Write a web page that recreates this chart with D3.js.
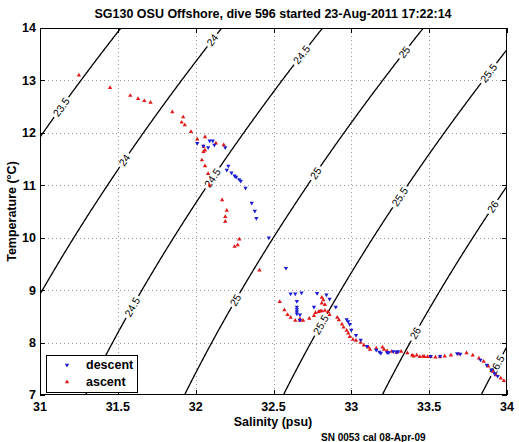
<!DOCTYPE html>
<html><head><meta charset="utf-8">
<script src="https://cdn.jsdelivr.net/npm/d3@7"></script>
<style>
body{margin:0;background:#fff;}
text{font-family:"Liberation Sans",Arial,Helvetica,sans-serif;}
</style></head>
<body><svg id="c" width="519" height="442"></svg>
<script>
// ---- data ----
const title = "SG130 OSU Offshore, dive 596 started 23-Aug-2011 17:22:14";
const xLabel = "Salinity (psu)";
const yLabel = "Temperature (°C)";
const footNote = "SN 0053 cal 08-Apr-09";
const xTicks = [31, 31.5, 32, 32.5, 33, 33.5, 34];
const yTicks = [7, 8, 9, 10, 11, 12, 13, 14];
const sigmaLevels = [23.5, 24, 24.5, 25, 25.5, 26, 26.5];
// temperatures at which each contour is labelled
const labelTemps = {
  "23.5": [12.49],
  "24": [13.77, 11.48],
  "24.5": [13.49, 11.14, 8.68],
  "25": [13.54, 11.23, 8.81],
  "25.5": [13.14, 10.78, 8.34],
  "26": [10.59, 8.18],
  "26.5": [7.57]
};
const descentS = [32.01,32.05,32.09,32.11,32.08,32.12,32.19,32.21,32.20,32.23,32.25,32.26,32.28,32.29,32.32,32.36,32.38,32.39,32.47,32.58,32.61,32.64,32.68,32.65,32.65,32.65,32.65,32.65,32.67,32.67,32.78,32.84,32.86,32.76,32.90,32.97,32.98,32.99,33.00,33.03,33.06,33.10,33.16,33.19,33.23,33.27,33.30,33.18,33.24,33.29,33.51,33.57,33.68,33.70,33.83,33.87,33.90,33.92,33.94];
const descentT = [11.80,11.75,11.85,11.85,11.72,11.77,11.72,11.37,11.29,11.24,11.18,11.16,11.11,11.08,10.95,10.66,10.51,10.37,10.00,9.42,8.93,8.93,8.95,8.79,8.68,8.63,8.59,8.55,8.53,8.43,8.94,8.91,8.83,8.68,8.68,8.44,8.40,8.35,8.24,8.14,8.05,7.93,7.86,7.80,7.81,7.83,7.83,7.82,7.81,7.82,7.74,7.74,7.79,7.78,7.67,7.57,7.48,7.41,7.36];
const ascentS = [31.25,31.45,31.58,31.63,31.67,31.71,31.85,31.92,31.91,31.93,31.97,32.01,32.06,32.13,32.18,32.05,32.06,32.05,32.04,32.06,32.08,32.09,32.17,32.20,32.19,32.19,32.28,32.27,32.25,32.41,32.54,32.57,32.59,32.61,32.64,32.67,32.69,32.67,32.73,32.76,32.77,32.79,32.80,32.81,32.83,32.81,32.82,32.81,32.83,32.85,32.86,32.91,32.92,32.94,32.95,32.97,32.98,32.99,33.01,33.03,33.06,33.08,33.11,33.12,33.16,33.20,33.21,33.23,33.26,33.29,33.32,33.36,33.39,33.42,33.46,33.49,33.40,33.44,33.47,33.51,33.54,33.57,33.60,33.64,33.69,33.74,33.78,33.82,33.85,33.88,33.91,33.93,33.96,33.98];
const ascentT = [13.10,12.86,12.71,12.65,12.61,12.58,12.40,12.30,12.20,12.15,12.02,11.88,11.92,11.80,11.77,11.74,11.67,11.64,11.48,11.37,11.22,11.00,10.72,10.52,10.40,10.31,9.97,9.86,9.83,9.38,8.78,8.62,8.53,8.48,8.42,8.42,8.42,8.45,8.46,8.51,8.57,8.59,8.60,8.60,8.61,8.75,8.81,8.86,8.72,8.59,8.53,8.48,8.43,8.35,8.29,8.23,8.18,8.11,8.06,8.04,8.00,7.95,7.91,7.87,7.89,7.91,7.87,7.84,7.83,7.81,7.83,7.80,7.76,7.76,7.74,7.73,7.74,7.73,7.73,7.73,7.72,7.73,7.74,7.76,7.78,7.80,7.76,7.70,7.64,7.55,7.45,7.38,7.32,7.27];
const legendItems = ["descent", "ascent"];
const colors = {descent: "#1c1cd6", ascent: "#e01818"};

// UNESCO EOS-80 one-atmosphere density anomaly
function sigmaT(S, T) {
  const rw = 999.842594 + 6.793952e-2*T - 9.095290e-3*T*T + 1.001685e-4*T**3 - 1.120083e-6*T**4 + 6.536332e-9*T**5;
  const A = 8.24493e-1 - 4.0899e-3*T + 7.6438e-5*T*T - 8.2467e-7*T**3 + 5.3875e-9*T**4;
  const B = -5.72466e-3 + 1.0227e-4*T - 1.6546e-6*T*T;
  return rw + A*S + B*Math.pow(S,1.5) + 4.8314e-4*S*S - 1000;
}
function solveS(level, T) {
  let lo = 20, hi = 45;
  for (let i = 0; i < 60; i++) {
    const mid = (lo+hi)/2;
    if (sigmaT(mid, T) < level) lo = mid; else hi = mid;
  }
  return (lo+hi)/2;
}

// ---- chart ----
const svg = d3.select("#c");
const L = 40, R = 507, Tp = 28, B = 395;
const x = d3.scaleLinear().domain([31, 34]).range([L, R]);
const y = d3.scaleLinear().domain([7, 14]).range([B, Tp]);

svg.append("defs").append("clipPath").attr("id","clip")
  .append("rect").attr("x",L).attr("y",Tp).attr("width",R-L).attr("height",B-Tp);

// grid
const grid = svg.append("g").attr("stroke","#9a9a9a").attr("stroke-width",1).attr("stroke-dasharray","1,3");
xTicks.slice(1,-1).forEach(v => grid.append("line").attr("x1",Math.round(x(v))+0.5).attr("x2",Math.round(x(v))+0.5).attr("y1",Tp).attr("y2",B));
yTicks.slice(1,-1).forEach(v => grid.append("line").attr("y1",Math.round(y(v))+0.5).attr("y2",Math.round(y(v))+0.5).attr("x1",L).attr("x2",R));

// contours
const cg = svg.append("g").attr("clip-path","url(#clip)");
const lg = svg.append("g");
const Ts = d3.range(6.5, 14.51, 0.01);
sigmaLevels.forEach(lev => {
  const pts = Ts.map(T => [x(solveS(lev, T)), y(T)]);
  const labs = (labelTemps[String(lev)] || []).map(T => {
    const p1 = [x(solveS(lev, T-0.05)), y(T-0.05)];
    const p2 = [x(solveS(lev, T+0.05)), y(T+0.05)];
    const c = [x(solveS(lev, T)), y(T)];
    const ang = Math.atan2(p2[1]-p1[1], p2[0]-p1[0]) * 180/Math.PI;
    const t = lg.append("text").attr("transform",`translate(${c[0]},${c[1]}) rotate(${ang})`)
      .attr("text-anchor","middle").attr("dy","0.35em").attr("font-size",10.5).text(String(lev));
    const w = t.node().getComputedTextLength();
    return {c, r: w/2 + 2};
  });
  const line = d3.line().defined(p => labs.every(l => Math.hypot(p[0]-l.c[0], p[1]-l.c[1]) > l.r));
  cg.append("path").attr("d", line(pts)).attr("fill","none").attr("stroke","#000").attr("stroke-width",1.3);
});

// markers
const tri = d3.symbol().type(d3.symbolTriangle).size(8);
const mg = svg.append("g").attr("clip-path","url(#clip)");
ascentS.forEach((s,i) => mg.append("path").attr("d",tri()).attr("fill",colors.ascent)
  .attr("transform",`translate(${x(s)},${y(ascentT[i])})`));
descentS.forEach((s,i) => mg.append("path").attr("d",tri()).attr("fill",colors.descent)
  .attr("transform",`translate(${x(s)},${y(descentT[i])}) rotate(180)`));

// axes box and ticks
const tl = 5;
const ax = svg.append("g").attr("stroke","#000").attr("stroke-width",1);
ax.append("rect").attr("x",L+0.5).attr("y",Tp+0.5).attr("width",R-L-1).attr("height",B-Tp-1).attr("fill","none");
xTicks.forEach(v => {
  const xx = Math.round(x(v))+0.5;
  ax.append("line").attr("x1",xx).attr("x2",xx).attr("y1",B).attr("y2",B-tl);
  ax.append("line").attr("x1",xx).attr("x2",xx).attr("y1",Tp).attr("y2",Tp+tl);
});
yTicks.forEach(v => {
  const yy = Math.round(y(v))+0.5;
  ax.append("line").attr("y1",yy).attr("y2",yy).attr("x1",L).attr("x2",L+tl);
  ax.append("line").attr("y1",yy).attr("y2",yy).attr("x1",R).attr("x2",R-tl);
});
const tg = svg.append("g").attr("font-weight","bold").attr("font-size",12.5);
xTicks.forEach(v => tg.append("text").attr("x",x(v)).attr("y",B+16).attr("text-anchor","middle").text(String(v)));
yTicks.forEach(v => tg.append("text").attr("x",L-4).attr("y",y(v)).attr("dy","0.35em").attr("text-anchor","end").text(String(v)));

// titles
svg.append("text").attr("x",273).attr("y",18).attr("text-anchor","middle").attr("font-weight","bold").attr("font-size",12.5).text(title);
svg.append("text").attr("x",273).attr("y",426).attr("text-anchor","middle").attr("font-weight","bold").attr("font-size",12.5).text(xLabel);
svg.append("text").attr("transform",`translate(16,${(Tp+B)/2}) rotate(-90)`).attr("text-anchor","middle").attr("font-weight","bold").attr("font-size",12.5).text(yLabel);
svg.append("text").attr("x",321).attr("y",441).attr("font-weight","bold").attr("font-size",10).text(footNote);

// legend
const lgd = svg.append("g");
lgd.append("rect").attr("x",46.5).attr("y",355.5).attr("width",91).attr("height",37).attr("fill","#fff").attr("stroke","#000");
legendItems.forEach((k,i) => {
  const yy = 365 + i*17;
  lgd.append("path").attr("d",tri()).attr("fill",colors[k])
    .attr("transform",`translate(67,${yy}) rotate(${k==="descent"?180:0})`);
  lgd.append("text").attr("x",86).attr("y",yy).attr("dy","0.35em").attr("font-weight","bold").attr("font-size",12.5).text(k);
});
</script></body></html>
